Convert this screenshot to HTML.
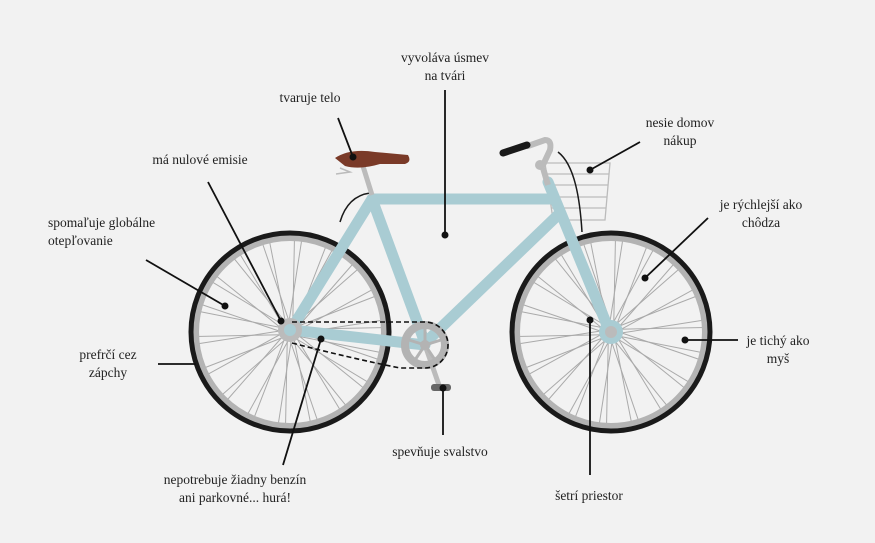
<!DOCTYPE html>
<html><head><meta charset="utf-8"><style>
html,body{margin:0;padding:0;background:#f2f2f2;}
svg{display:block;}
text{font-family:"Liberation Serif",serif;font-size:13.5px;fill:#222;}
</style></head><body>
<svg width="875" height="543" viewBox="0 0 875 543" xmlns="http://www.w3.org/2000/svg" xmlns:xlink="http://www.w3.org/1999/xlink">
<rect width="875" height="543" fill="#f2f2f2"/>
<defs>
<line id="sp" x1="0" y1="-8" x2="-28" y2="-90" stroke="#aaa" stroke-width="1"/>
<line id="sp2" x1="0" y1="-8" x2="28" y2="-90" stroke="#aaa" stroke-width="1"/>
<g id="spokes">
<use xlink:href="#sp"/><use xlink:href="#sp" transform="rotate(20)"/><use xlink:href="#sp" transform="rotate(40)"/><use xlink:href="#sp" transform="rotate(60)"/><use xlink:href="#sp" transform="rotate(80)"/><use xlink:href="#sp" transform="rotate(100)"/><use xlink:href="#sp" transform="rotate(120)"/><use xlink:href="#sp" transform="rotate(140)"/><use xlink:href="#sp" transform="rotate(160)"/><use xlink:href="#sp" transform="rotate(180)"/><use xlink:href="#sp" transform="rotate(200)"/><use xlink:href="#sp" transform="rotate(220)"/><use xlink:href="#sp" transform="rotate(240)"/><use xlink:href="#sp" transform="rotate(260)"/><use xlink:href="#sp" transform="rotate(280)"/><use xlink:href="#sp" transform="rotate(300)"/><use xlink:href="#sp" transform="rotate(320)"/><use xlink:href="#sp" transform="rotate(340)"/>
<use xlink:href="#sp2" transform="rotate(10)"/><use xlink:href="#sp2" transform="rotate(30)"/><use xlink:href="#sp2" transform="rotate(50)"/><use xlink:href="#sp2" transform="rotate(70)"/><use xlink:href="#sp2" transform="rotate(90)"/><use xlink:href="#sp2" transform="rotate(110)"/><use xlink:href="#sp2" transform="rotate(130)"/><use xlink:href="#sp2" transform="rotate(150)"/><use xlink:href="#sp2" transform="rotate(170)"/><use xlink:href="#sp2" transform="rotate(190)"/><use xlink:href="#sp2" transform="rotate(210)"/><use xlink:href="#sp2" transform="rotate(230)"/><use xlink:href="#sp2" transform="rotate(250)"/><use xlink:href="#sp2" transform="rotate(270)"/><use xlink:href="#sp2" transform="rotate(290)"/><use xlink:href="#sp2" transform="rotate(310)"/><use xlink:href="#sp2" transform="rotate(330)"/><use xlink:href="#sp2" transform="rotate(350)"/>
</g>
</defs>
<!-- wheels -->
<g transform="translate(290,332)">
<use xlink:href="#spokes"/>
<circle r="94" fill="none" stroke="#b3b3b3" stroke-width="6"/>
<circle r="99" fill="none" stroke="#1a1a1a" stroke-width="5"/>
</g>
<g transform="translate(611,332)">
<use xlink:href="#spokes"/>
<circle r="94" fill="none" stroke="#b3b3b3" stroke-width="6"/>
<circle r="99" fill="none" stroke="#1a1a1a" stroke-width="5"/>
</g>
<!-- basket -->
<g stroke="#bbb" stroke-width="1.3" fill="none">
<path d="M545 163 L610 163 L605 220 L553 220 Z"/>
<line x1="546" y1="174" x2="609" y2="174"/><line x1="548" y1="185" x2="608" y2="185"/><line x1="549" y1="197" x2="607" y2="197"/><line x1="551" y1="208" x2="606" y2="208"/>
</g>
<!-- cables -->
<path d="M370 193 C355 195 345 205 340 222" stroke="#1a1a1a" stroke-width="1.5" fill="none"/>
<path d="M558 152 C575 165 580 200 582 232" stroke="#1a1a1a" stroke-width="1.5" fill="none"/>
<!-- frame -->
<g stroke="#a9ccd3" stroke-width="11" stroke-linecap="round" fill="none">
<line x1="372" y1="199" x2="552" y2="199"/>
<line x1="372" y1="199" x2="425" y2="343"/>
<line x1="372" y1="199" x2="292" y2="328"/>
<line x1="292" y1="330" x2="425" y2="345"/>
<line x1="558" y1="215" x2="425" y2="343"/>
<line x1="548" y1="182" x2="609" y2="330"/>
</g>
<circle cx="611" cy="332" r="12" fill="#a9ccd3"/><circle cx="611" cy="332" r="6" fill="#bbb"/>
<circle cx="290" cy="330" r="12" fill="#bbb"/><circle cx="290" cy="330" r="6" fill="#a9ccd3"/>
<!-- seat -->
<line x1="362" y1="163" x2="372" y2="195" stroke="#bbb" stroke-width="5"/>
<path d="M335 158 Q350 148 375 152 L408 155 Q412 162 405 164 L380 164 Q360 170 345 166 Z" fill="#7a3a28"/>
<path d="M340 168 L350 172 L336 174" stroke="#bbb" stroke-width="1.5" fill="none"/>
<!-- handlebar -->
<path d="M528 146 L545 140 Q552 140 550 150 L543 165" stroke="#bbb" stroke-width="6" fill="none" stroke-linecap="round"/>
<line x1="503" y1="153" x2="527" y2="145" stroke="#1a1a1a" stroke-width="7" stroke-linecap="round"/>
<circle cx="540" cy="165" r="5" fill="#bbb"/>
<line x1="543" y1="168" x2="548" y2="185" stroke="#bbb" stroke-width="6"/>
<!-- crank -->
<line x1="425" y1="345" x2="440" y2="388" stroke="#bbb" stroke-width="5"/>
<circle cx="425" cy="345" r="20" fill="none" stroke="#b3b3b3" stroke-width="8"/>
<circle cx="425" cy="345" r="5" fill="#b3b3b3"/>
<g stroke="#b3b3b3" stroke-width="3"><line x1="425" y1="345" x2="425" y2="328"/><line x1="425" y1="345" x2="441" y2="340"/><line x1="425" y1="345" x2="435" y2="360"/><line x1="425" y1="345" x2="415" y2="360"/><line x1="425" y1="345" x2="409" y2="340"/></g>
<rect x="431" y="384" width="20" height="7" rx="3" fill="#666"/>
<path d="M292 322 L425 322 A23 23 0 0 1 425 368 L400 368 Q350 358 292 343" stroke="#111" stroke-width="1.6" stroke-dasharray="5,3" fill="none"/>
<!-- leaders -->
<g stroke="#111" stroke-width="1.8" fill="none">
<line x1="445" y1="90" x2="445" y2="235"/>
<line x1="338" y1="118" x2="353" y2="157"/>
<line x1="208" y1="182" x2="281" y2="321"/>
<line x1="146" y1="260" x2="225" y2="306"/>
<line x1="158" y1="364" x2="196" y2="364"/>
<line x1="283" y1="465" x2="321" y2="339"/>
<line x1="443" y1="390" x2="443" y2="435"/>
<line x1="590" y1="320" x2="590" y2="475"/>
<line x1="640" y1="142" x2="590" y2="170"/>
<line x1="708" y1="218" x2="645" y2="278"/>
<line x1="685" y1="340" x2="738" y2="340"/>
</g>
<g fill="#111">
<circle cx="445" cy="235" r="3.5"/><circle cx="353" cy="157" r="3.5"/><circle cx="281" cy="321" r="3.5"/><circle cx="225" cy="306" r="3.5"/><circle cx="321" cy="339" r="3.5"/><circle cx="443" cy="388" r="3.5"/><circle cx="590" cy="320" r="3.5"/><circle cx="590" cy="170" r="3.5"/><circle cx="645" cy="278" r="3.5"/><circle cx="685" cy="340" r="3.5"/>
</g>
<!-- labels -->
<text x="445" y="62" text-anchor="middle">vyvoláva úsmev</text>
<text x="445" y="80" text-anchor="middle">na tvári</text>
<text x="310" y="102" text-anchor="middle">tvaruje telo</text>
<text x="200" y="164" text-anchor="middle">má nulové emisie</text>
<text x="48" y="227">spomaľuje globálne</text>
<text x="48" y="245">otepľovanie</text>
<text x="108" y="359" text-anchor="middle">prefrčí cez</text>
<text x="108" y="377" text-anchor="middle">zápchy</text>
<text x="235" y="484" text-anchor="middle">nepotrebuje žiadny benzín</text>
<text x="235" y="502" text-anchor="middle">ani parkovné... hurá!</text>
<text x="440" y="456" text-anchor="middle">spevňuje svalstvo</text>
<text x="589" y="500" text-anchor="middle">šetrí priestor</text>
<text x="680" y="127" text-anchor="middle">nesie domov</text>
<text x="680" y="145" text-anchor="middle">nákup</text>
<text x="761" y="209" text-anchor="middle">je rýchlejší ako</text>
<text x="761" y="227" text-anchor="middle">chôdza</text>
<text x="778" y="345" text-anchor="middle">je tichý ako</text>
<text x="778" y="363" text-anchor="middle">myš</text>
</svg>
</body></html>
